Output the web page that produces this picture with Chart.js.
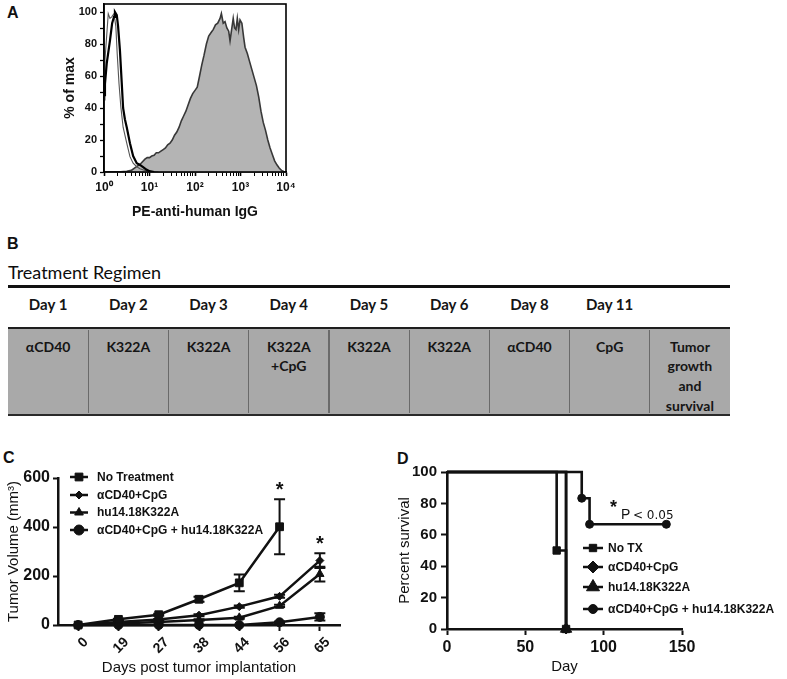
<!DOCTYPE html>
<html><head><meta charset="utf-8">
<script src="https://cdn.jsdelivr.net/npm/chart.js@4.4.0/dist/chart.umd.min.js"></script>
<style>
html,body{margin:0;padding:0;background:#fff;}
#root{position:relative;width:787px;height:679px;overflow:hidden;background:#fff;font-family:"Liberation Sans",Arial,sans-serif;color:#111;}
.plabel{position:absolute;font:bold 16px/16px "Liberation Sans",Arial,sans-serif;color:#111;}
canvas{position:absolute;display:block;}
.bt{position:absolute;font-family:Lato,"Open Sans",sans-serif;color:#151515;text-align:center;white-space:nowrap;}
</style></head>
<body><div id="root">
<div class="plabel" style="left:7px;top:5px">A</div>
<div class="plabel" style="left:7px;top:236px">B</div>
<div class="plabel" style="left:3px;top:450px">C</div>
<div class="plabel" style="left:397px;top:451px">D</div>
<canvas id="cA" width="300" height="225" style="left:0;top:0;width:300px;height:225px"></canvas>
<div id="panelB"></div>
<canvas id="cC" width="390" height="239" style="left:0;top:440px;width:390px;height:239px"></canvas>
<canvas id="cD" width="397" height="239" style="left:390px;top:440px;width:397px;height:239px"></canvas>
</div>
<script>
// ---------- Panel A: flow histogram (fluorescence vs % of max) ----------
const histStainedX = [1,2,3.16,3.98,5.01,6.31,7.94,8.91,10,11.2,12.6,14.1,15.8,17.8,20,22.4,25.1,28.2,31.6,35.5,39.8,44.7,50.1,56.2,63.1,70.8,79.4,89.1,100,112,126,141,158,178,200,224,251,282,316,355,380,417,457,501,550,589,631,692,741,794,851,912,977,1072,1175,1259,1413,1585,1778,1995,2239,2512,2818,3162,3548,3981,4467,5012,5623,6310,7079,7943,8913,10000];
const histStainedY = [0,0,0.5,1,3,5,8,9,9,10,10.5,12,12,13,14,15,17,18,20,23,25,28,32,35,38,42,46,49,51,53,60,67,73,80,85,87,89,92,93,96,99,93,94,90,88,82,88,96,90,89,96,89,95,93,84,78,74,69,64,59,54,47,38,31,26,20,15,11,7,4.5,2.5,1,0.3,0];
const histThickX = [1,1.05,1.15,1.35,1.51,1.66,1.74,1.91,2.04,2.24,2.45,2.63,2.88,3.16,3.72,4.37,5.25,6.17,7.24,8.51,10,12.6];
const histThickY = [48,55,68,82,93,97,100,98,91,76,56,40,33,28,18,10,5.5,4.4,3,1.5,0.5,0];
const histThinX = [1,1.05,1.24,1.35,1.48,1.66,1.82,1.95,2.14,2.34,2.63,3.16,3.72,4.37,5.25,6.17,7.94,10,15.8];
const histThinY = [45,70,99,96,97,99,91,74,55,41,28,18,9.6,5.5,3.3,2,1,0.5,0];
const histDecades = [1,10,100,1000,10000];
const histDecadeLabels = ['10\u2070','10\u00b9','10\u00b2','10\u00b3','10\u2074'];
const histYTicks = [0,10,20,30,40,50,60,70,80,90,100];

// ---------- Panel B: treatment regimen ----------
const regimenTitle = 'Treatment Regimen';
const regimenDays = ['Day 1','Day 2','Day 3','Day 4','Day 5','Day 6','Day 8','Day 11',''];
const regimenTreatments = ['\u03b1CD40','K322A','K322A','K322A\n+CpG','K322A','K322A','\u03b1CD40','CpG','Tumor\ngrowth\nand\nsurvival'];

// ---------- Panel C: tumor volume ----------
const tumorDays = ['0','19','27','38','44','56','65'];
const tumorSeriesNames = ['No Treatment','\u03b1CD40+CpG','hu14.18K322A','\u03b1CD40+CpG + hu14.18K322A'];
const volNoTx     = [0,23,42,105,172,401,null];
const semNoTx     = [0,3,4,10,34,112,null];
const volCD40CpG  = [0,12,22,40,75,117,263];
const semCD40CpG  = [0,2,3,4,5,6,30];
const volK322A    = [0,6,12,20,30,78,208];
const semK322A    = [0,1,2,3,4,5,30];
const volCombo    = [0,0,0,0,0,11,33];
const semCombo    = [0,0,0,0,0,3,15];
const tumorSigIdx = [5,6];

// ---------- Panel D: survival ----------
const survNames = ['No TX','\u03b1CD40+CpG','hu14.18K322A','\u03b1CD40+CpG + hu14.18K322A'];
const survNoTxDay = [0,70,76];       const survNoTxPct = [100,50,0];
const survCD40CpGDay = [0,76];       const survCD40CpGPct = [100,0];
const survK322ADay = [0,76];         const survK322APct = [100,0];
const survComboDay = [0,86,91,140];  const survComboPct = [100,83.3,66.7,66.7];

// ================= rendering =================
const FONT = '"Liberation Sans", Arial, Helvetica, sans-serif';
Chart.defaults.font.family = FONT;
Chart.defaults.color = '#111';
const INK = '#111';

const toXY = (xs, ys) => xs.map((x, i) => ({x: x, y: ys[i]}));
function fixSize(w, h) {
  return function (s) {
    if (w !== undefined) s.width = w;
    if (h !== undefined) s.height = h;
    s.paddingLeft = 0; s.paddingRight = 0; s.paddingTop = 0; s.paddingBottom = 0;
  };
}
function marker(ctx, style, r, x, y) {
  ctx.save();
  ctx.fillStyle = INK; ctx.strokeStyle = INK; ctx.lineWidth = 1;
  Chart.helpers.drawPoint(ctx, {pointStyle: style, radius: r, rotation: 0, borderWidth: 1}, x, y);
  ctx.restore();
}
function legendPlugin(id, names, styles, radii, rowsY, x1, x2, xm, xt) {
  return {id: id, afterDraw(chart) {
    const ctx = chart.ctx;
    names.forEach((n, i) => {
      const y = rowsY[i];
      ctx.save();
      ctx.strokeStyle = INK; ctx.lineWidth = 2.5;
      ctx.beginPath(); ctx.moveTo(x1, y); ctx.lineTo(x2, y); ctx.stroke();
      ctx.restore();
      marker(ctx, styles[i], radii[i], xm, y);
      ctx.save();
      ctx.fillStyle = INK;
      ctx.font = 'bold 12px ' + FONT;
      ctx.textBaseline = 'middle'; ctx.textAlign = 'left';
      ctx.fillText(n, xt, y + 0.5);
      ctx.restore();
    });
  }};
}

// ----- Panel A -----
const framePlugin = {id: 'frame', afterDatasetsDraw(chart) {
  const {ctx, chartArea: a} = chart;
  ctx.save(); ctx.strokeStyle = '#000'; ctx.lineWidth = 1.6;
  ctx.strokeRect(a.left, a.top, a.right - a.left, a.bottom - a.top);
  ctx.restore();
}};
const logTickVals = [];
histDecades.forEach((d, i) => {
  logTickVals.push(d);
  if (i < histDecades.length - 1) for (let m = 2; m <= 9; m++) logTickVals.push(d * m);
});
new Chart(document.getElementById('cA'), {
  type: 'line',
  data: {datasets: [
    {data: toXY(histThickX, histThickY), borderColor: '#000', borderWidth: 2.2, pointRadius: 0, fill: false},
    {data: toXY(histThinX, histThinY), borderColor: '#555', borderWidth: 1.1, pointRadius: 0, fill: false},
    {data: toXY(histStainedX, histStainedY), borderColor: '#383838', borderWidth: 1.6, backgroundColor: '#b4b4b4', fill: 'origin', pointRadius: 0}
  ]},
  options: {
    responsive: false, animation: false,
    layout: {padding: {left: 0, top: 4, right: 14, bottom: 0}, autoPadding: false},
    plugins: {legend: {display: false}, tooltip: {enabled: false}},
    scales: {
      x: {type: 'logarithmic', min: 1, max: 10000, afterFit: fixSize(undefined, 53),
        afterBuildTicks: s => { s.ticks = logTickVals.map(v => ({value: v, major: histDecades.includes(v)})); },
        ticks: {autoSkip: false, maxRotation: 0, minRotation: 0, font: {size: 12, weight: 'bold'}, padding: 4,
          callback: v => { const k = histDecades.indexOf(v); return k >= 0 ? histDecadeLabels[k] : ''; }},
        grid: {drawOnChartArea: false, drawTicks: true, tickLength: 4, tickColor: '#000',
          tickWidth: c => (c.tick && histDecades.includes(c.tick.value)) ? 1.6 : 1},
        border: {display: true, color: '#000', width: 1.6},
        title: {display: true, text: 'PE-anti-human IgG', font: {size: 14, weight: 'bold'}, padding: {top: 0, bottom: 4}}
      },
      y: {min: 0, max: 105, afterFit: fixSize(104),
        afterBuildTicks: s => { s.ticks = histYTicks.map(v => ({value: v})); },
        ticks: {autoSkip: false, font: {size: 11, weight: 'bold'}, padding: 3, callback: v => (v % 20 === 0 ? String(v) : '')},
        grid: {drawOnChartArea: false, drawTicks: true, tickLength: 4, tickColor: '#000', tickWidth: 1.3},
        border: {display: true, color: '#000', width: 1.6},
        title: {display: true, text: '% of max', font: {size: 14, weight: 'bold'}, padding: {top: 62, bottom: 0}}
      }
    }
  },
  plugins: [framePlugin]
});

// ----- Panel B (HTML table) -----
(function () {
  const root = document.getElementById('panelB');
  const L = 8, R = 730, n = regimenDays.length, cw = (R - L) / n;
  const add = (html, style, cls) => { const d = document.createElement('div'); if (cls) d.className = cls; d.style.cssText = style; d.innerHTML = html; root.appendChild(d); };
  add(regimenTitle, 'left:8px;top:263px;font-size:18px;line-height:18px;text-align:left;color:#0d0d0d;', 'bt');
  add('', 'position:absolute;left:8px;top:285px;width:722px;height:2.6px;background:#111;');
  add('', 'position:absolute;left:8px;top:327px;width:722px;height:88.5px;box-sizing:border-box;background:#a9a9a9;border-top:2.6px solid #1e1e1e;border-bottom:2.8px solid #2a2a2a;');
  for (let i = 0; i < n; i++) {
    const x = L + i * cw;
    if (i > 0) add('', 'position:absolute;left:' + (x - 0.5) + 'px;top:329.5px;width:1.2px;height:83.5px;background:#6a6a6a;');
    add(regimenDays[i], 'left:' + x + 'px;width:' + cw + 'px;top:297px;font-size:15px;line-height:15px;font-weight:700;', 'bt');
    add(regimenTreatments[i].split('\n').join('<br>'), 'left:' + x + 'px;width:' + cw + 'px;top:336.5px;font-size:14px;line-height:19.7px;font-weight:700;', 'bt');
  }
})();

// ----- Panel C -----
const tumorVals = [volNoTx, volCD40CpG, volK322A, volCombo];
const tumorSems = [semNoTx, semCD40CpG, semK322A, semCombo];
const stylesC = ['rect', 'rectRot', 'triangle', 'circle'];
const radiiC = [5.5, 4, 4.8, 4.5];
const errPlugin = {id: 'err', beforeDatasetsDraw(chart) {
  const {ctx, scales: {x, y}} = chart;
  ctx.save(); ctx.strokeStyle = INK; ctx.lineWidth = 2;
  tumorVals.forEach((vals, si) => {
    vals.forEach((v, j) => {
      const e = tumorSems[si][j];
      if (v === null || !e) return;
      const px = x.getPixelForValue(j), yt = y.getPixelForValue(v + e), yb = y.getPixelForValue(v - e);
      ctx.beginPath();
      ctx.moveTo(px, yt); ctx.lineTo(px, yb);
      ctx.moveTo(px - 5.5, yt); ctx.lineTo(px + 5.5, yt);
      ctx.moveTo(px - 5.5, yb); ctx.lineTo(px + 5.5, yb);
      ctx.stroke();
    });
  });
  ctx.restore();
}, afterDraw(chart) {
  const {ctx, scales: {x, y}} = chart;
  ctx.save(); ctx.fillStyle = INK; ctx.font = 'bold 20px ' + FONT; ctx.textAlign = 'center'; ctx.textBaseline = 'alphabetic';
  tumorSigIdx.forEach(j => {
    let top = Infinity;
    tumorVals.forEach((vals, si) => { if (vals[j] !== null) top = Math.min(top, y.getPixelForValue(vals[j] + tumorSems[si][j])); });
    ctx.fillText('*', x.getPixelForValue(j), top - 15 + 11.6);
  });
  ctx.restore();
}};
new Chart(document.getElementById('cC'), {
  type: 'line',
  data: {labels: tumorDays, datasets: tumorVals.map((d, i) => ({
    label: tumorSeriesNames[i], data: d, borderColor: INK, backgroundColor: INK, borderWidth: 2.5,
    pointStyle: stylesC[i], pointRadius: radiiC[i], pointBorderWidth: 1, pointBorderColor: INK, pointBackgroundColor: INK,
    clip: false, spanGaps: false, fill: false
  }))},
  options: {
    responsive: false, animation: false,
    layout: {padding: {left: 0, top: 38, right: 50, bottom: 0}, autoPadding: false},
    plugins: {legend: {display: false}, tooltip: {enabled: false}},
    scales: {
      x: {type: 'category', offset: true, afterFit: fixSize(undefined, 54),
        ticks: {autoSkip: false, minRotation: 45, maxRotation: 45, font: {size: 14, weight: 'bold'}, padding: 3, labelOffset: 8},
        grid: {drawOnChartArea: false, drawTicks: true, tickLength: 6, tickColor: INK, tickWidth: 2, offset: false},
        border: {display: true, color: INK, width: 2.5},
        title: {display: true, text: 'Days post tumor implantation', font: {size: 15}, padding: {top: 0, bottom: 2}}
      },
      y: {min: 0, max: 600, afterFit: fixSize(58),
        ticks: {stepSize: 200, font: {size: 16, weight: 'bold'}, padding: 3},
        grid: {drawOnChartArea: false, drawTicks: true, tickLength: 5, tickColor: INK, tickWidth: 2},
        border: {display: true, color: INK, width: 2.5},
        title: {display: true, text: 'Tumor Volume (mm\u00b3)', font: {size: 15}, padding: {top: 5, bottom: 0}}
      }
    }
  },
  plugins: [errPlugin, legendPlugin('legC', tumorSeriesNames, stylesC, [5.5, 4, 5, 5], [37, 55, 72.5, 90], 70, 88, 79, 97)]
});

// ----- Panel D -----
const survDays = [survNoTxDay, survCD40CpGDay, survK322ADay, survComboDay];
const survPcts = [survNoTxPct, survCD40CpGPct, survK322APct, survComboPct];
const stylesD = ['rect', 'rectRot', 'triangle', 'circle'];
const radiiD = [5.2, 5, 6.5, 4];
const pPlugin = {id: 'pval', afterDraw(chart) {
  const ctx = chart.ctx;
  ctx.save(); ctx.fillStyle = INK; ctx.textAlign = 'left'; ctx.textBaseline = 'alphabetic';
  ctx.font = 'bold 18px ' + FONT; ctx.fillText('*', 220, 63 + 10.4);
  ctx.font = '14px ' + FONT; ctx.fillText('P', 231, 79);
  ctx.font = '12px "DejaVu Sans", ' + FONT; ctx.fillText('< 0.05', 243, 78.5);
  ctx.restore();
}};
new Chart(document.getElementById('cD'), {
  type: 'line',
  data: {datasets: survDays.map((d, i) => ({
    label: survNames[i], data: toXY(d, survPcts[i]), stepped: 'before',
    borderColor: INK, backgroundColor: INK, borderWidth: 2.6,
    pointStyle: stylesD[i], pointRadius: c => (c.dataIndex === 0 ? 0 : radiiD[i]), pointBorderWidth: 1,
    pointBorderColor: INK, pointBackgroundColor: INK, clip: false, fill: false
  }))},
  options: {
    responsive: false, animation: false,
    layout: {padding: {left: 0, top: 32, right: 105, bottom: 0}, autoPadding: false},
    plugins: {legend: {display: false}, tooltip: {enabled: false}},
    scales: {
      x: {type: 'linear', min: 0, max: 150, afterFit: fixSize(undefined, 50),
        ticks: {stepSize: 50, font: {size: 16, weight: 'bold'}, padding: 3},
        grid: {drawOnChartArea: false, drawTicks: true, tickLength: 6, tickColor: INK, tickWidth: 2},
        border: {display: true, color: INK, width: 2.6},
        title: {display: true, text: 'Day', font: {size: 15}, padding: {top: 0, bottom: 3}}
      },
      y: {min: 0, max: 100, afterFit: fixSize(57),
        ticks: {stepSize: 20, font: {size: 15, weight: 'bold'}, padding: 4},
        grid: {drawOnChartArea: false, drawTicks: true, tickLength: 6, tickColor: INK, tickWidth: 2},
        border: {display: true, color: INK, width: 2.6},
        title: {display: true, text: 'Percent survival', font: {size: 15}, padding: {top: 6, bottom: 0}}
      }
    }
  },
  plugins: [pPlugin, legendPlugin('legD', survNames, stylesD, [5.2, 6, 7.5, 4.5], [108, 127, 147, 169], 193, 213, 203, 218)]
});
</script>
</body></html>
